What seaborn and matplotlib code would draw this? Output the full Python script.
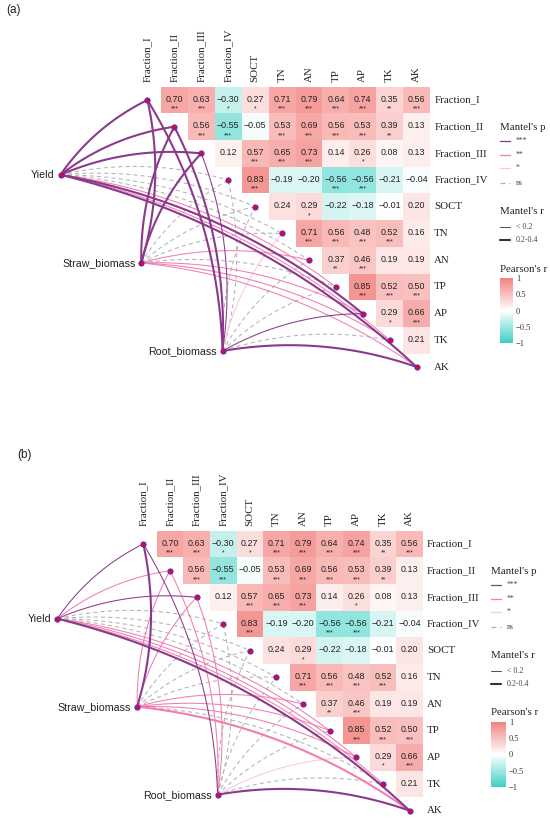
import numpy as np
import pandas as pd
import matplotlib
matplotlib.use("Agg")
import matplotlib.pyplot as plt
from matplotlib.colors import LinearSegmentedColormap
import seaborn as sns

# variables of the correlation triangle
variables = ["Fraction_I", "Fraction_II", "Fraction_III", "Fraction_IV", "SOCT",
             "TN", "AN", "TP", "AP", "TK", "AK"]
env_names = ["Yield", "Straw_biomass", "Root_biomass"]

# Pearson's r, upper triangle row by row (diagonal left out)
r_rows = [
    [0.70, 0.63, -0.30, 0.27, 0.71, 0.79, 0.64, 0.74, 0.35, 0.56],
    [0.56, -0.55, -0.05, 0.53, 0.69, 0.56, 0.53, 0.39, 0.13],
    [0.12, 0.57, 0.65, 0.73, 0.14, 0.26, 0.08, 0.13],
    [0.83, -0.19, -0.20, -0.56, -0.56, -0.21, -0.04],
    [0.24, 0.29, -0.22, -0.18, -0.01, 0.20],
    [0.71, 0.56, 0.48, 0.52, 0.16],
    [0.37, 0.46, 0.19, 0.19],
    [0.85, 0.52, 0.50],
    [0.29, 0.66],
    [0.21],
]
sig_rows = [
    ["***", "***", "*", "*", "***", "***", "***", "***", "**", "***"],
    ["***", "***", "", "***", "***", "***", "***", "**", ""],
    ["", "***", "***", "***", "", "*", "", ""],
    ["***", "", "", "***", "***", "", ""],
    ["", "*", "", "", "", ""],
    ["***", "***", "***", "***", ""],
    ["**", "***", "", ""],
    ["***", "***", "***"],
    ["*", "***"],
    [""],
]

# Mantel tests, panel (a): rows = Yield, Straw_biomass, Root_biomass
mantel_p_a = [
    ["***", "***", "***", "ns", "ns", "ns", "ns", "**", "***", "**", "***"],
    ["***", "***", "***", "ns", "ns", "ns", "**", "ns", "**", "**", "**"],
    ["***", "***", "***", "ns", "ns", "*", "ns", "ns", "***", "ns", "***"],
]
mantel_r_a = [
    ["0.2-0.4", "0.2-0.4", "0.2-0.4", "<0.2", "<0.2", "<0.2", "<0.2", "<0.2", "0.2-0.4", "<0.2", "0.2-0.4"],
    ["0.2-0.4", "0.2-0.4", "0.2-0.4", "<0.2", "<0.2", "<0.2", "<0.2", "<0.2", "<0.2", "<0.2", "<0.2"],
    ["0.2-0.4", "0.2-0.4", "<0.2", "<0.2", "<0.2", "<0.2", "<0.2", "<0.2", "<0.2", "<0.2", "0.2-0.4"],
]
# Mantel tests, panel (b)
mantel_p_b = [
    ["***", "**", "***", "ns", "ns", "ns", "ns", "**", "**", "**", "***"],
    ["***", "**", "**", "ns", "ns", "ns", "**", "**", "**", "ns", "**"],
    ["***", "**", "**", "ns", "ns", "ns", "ns", "ns", "*", "ns", "***"],
]
mantel_r_b = [
    ["<0.2", "<0.2", "<0.2", "<0.2", "<0.2", "<0.2", "<0.2", "<0.2", "<0.2", "<0.2", "0.2-0.4"],
    ["0.2-0.4", "<0.2", "<0.2", "<0.2", "<0.2", "<0.2", "<0.2", "<0.2", "<0.2", "<0.2", "0.2-0.4"],
    ["<0.2", "<0.2", "<0.2", "<0.2", "<0.2", "<0.2", "<0.2", "<0.2", "<0.2", "<0.2", "0.2-0.4"],
]

cbar_ticks = [1, 0.5, 0, -0.5, -1]

# --- layout (pixels) ---
W, H = 550, 821
layouts = [
    dict(tag="(a)", tagx=6, tagy=10, x0=134.0, cw=26.92, y0=86.65, ch=26.7, legx=500, cbw=13,
         p=mantel_p_a, r=mantel_r_a),
    dict(tag="(b)", tagx=17, tagy=455, x0=130.0, cw=26.63, y0=530.65, ch=26.67, legx=491, cbw=15,
         p=mantel_p_b, r=mantel_r_b),
]
# env node positions in cell units (same frame as the heatmap)
env_xy = [(-2.73, 3.30), (0.27, 6.60), (3.29, 9.90)]

p_color = {"***": "#8B3A8B", "**": "#F27DB0", "*": "#F9C8DB", "ns": "#B3B3B3"}
p_style = {"***": "-", "**": "-", "*": "-", "ns": (0, (4, 3))}
r_width = {"<0.2": 0.75, "0.2-0.4": 1.5}
p_order = ["ns", "*", "**", "***"]

SERIF = ["Liberation Serif", "DejaVu Serif"]
sns.set_style("white")
plt.rcParams["font.family"] = ["Liberation Sans", "DejaVu Sans"]

cmap = LinearSegmentedColormap.from_list("pearson", ["#3DD0C4", "#FFFFFF", "#F2827F"])

n = len(variables)
corr = np.full((n, n), np.nan)
stars = [["" for _ in range(n)] for _ in range(n)]
for i, (vals, sg) in enumerate(zip(r_rows, sig_rows)):
    for k, (v, s) in enumerate(zip(vals, sg)):
        corr[i, i + 1 + k] = v
        stars[i][i + 1 + k] = s
corr_df = pd.DataFrame(corr, index=variables, columns=variables)
mask = np.tril(np.ones((n, n), dtype=bool))


def curve(p0, p1, rad, num=60):
    p0, p1 = np.asarray(p0, float), np.asarray(p1, float)
    d = p1 - p0
    ctrl = (p0 + p1) / 2 + rad * np.array([d[1], -d[0]])
    t = np.linspace(0, 1, num)[:, None]
    return (1 - t) ** 2 * p0 + 2 * (1 - t) * t * ctrl + t ** 2 * p1


fig = plt.figure(figsize=(W / 100, H / 100), dpi=100)
lg = fig.add_axes([0, 0, 1, 1], zorder=10)
lg.set_xlim(0, W)
lg.set_ylim(H, 0)
lg.axis("off")

for lay in layouts:
    xmin = -4.9
    left = lay["x0"] + xmin * lay["cw"]
    ax = fig.add_axes([left / W, 1 - (lay["y0"] + n * lay["ch"]) / H,
                       (n - xmin) * lay["cw"] / W, n * lay["ch"] / H])
    row0 = lay["y0"] + lay["ch"] / 2
    lx = lay["legx"]
    cax = fig.add_axes([lx / W, 1 - (row0 + 243) / H, lay["cbw"] / W, 65 / H])

    sns.heatmap(corr_df, mask=mask, cmap=cmap, vmin=-1, vmax=1, ax=ax, cbar_ax=cax,
                cbar_kws={"ticks": cbar_ticks}, linewidths=0)
    ax.set_xlim(xmin, n)
    ax.set_ylim(n, 0)
    ax.set_xticks([])
    ax.set_yticks([])
    ax.set_xlabel("")
    ax.set_ylabel("")

    # cell labels
    for i in range(n):
        for j in range(n):
            if np.isnan(corr[i, j]):
                continue
            txt = f"{corr[i, j]:.2f}".replace("-", "\u2212")
            ax.text(j + 0.5, i + 0.47, txt, ha="center", va="center", fontsize=6.4, color="#222222")
            if stars[i][j]:
                ax.text(j + 0.5, i + 0.83, stars[i][j], ha="center", va="center",
                        fontsize=4.8, color="#222222")

    # axis labels
    for j, name in enumerate(variables):
        ax.text(j + 0.5, -0.17, name, rotation=90, ha="center", va="bottom",
                fontsize=7.8, family=SERIF, color="#222222", clip_on=False)
        ax.text(n + 0.15, j + 0.5, name, ha="left", va="center",
                fontsize=7.8, family=SERIF, color="#222222", clip_on=False)

    # Mantel links
    for level in p_order:
        for e, (ex, ey) in enumerate(env_xy):
            for j in range(n):
                if lay["p"][e][j] != level:
                    continue
                vx, vy = j + 0.5, j + 0.5
                rad = 0.13 if vx > ex + 0.5 else -0.13
                pts = curve((ex, ey), (vx, vy), rad)
                ax.plot(pts[:, 0], pts[:, 1], color=p_color[level], ls=p_style[level],
                        lw=r_width[lay["r"][e][j]], solid_capstyle="round", zorder=3, clip_on=False)

    # nodes
    diag = np.arange(n) + 0.5
    ax.scatter(diag, diag, s=14, c="red", edgecolors="#3333FF", linewidths=0.7, zorder=6, clip_on=False)
    ax.scatter([p[0] for p in env_xy], [p[1] for p in env_xy], s=14, c="red",
               edgecolors="#3333FF", linewidths=0.7, zorder=6, clip_on=False)
    for name, (ex, ey) in zip(env_names, env_xy):
        ax.text(ex - 0.22, ey, name, ha="right", va="center", fontsize=7.7, color="#222222")

    # colorbar
    cb = ax.collections[0].colorbar
    cb.outline.set_visible(False)
    cax.tick_params(length=0, pad=2, labelsize=6, colors="#333333")
    cax.set_yticklabels(["1", "0.5", "0", "\u22120.5", "\u22121"])
    for t in cax.get_yticklabels():
        t.set_family(SERIF)

    # legend
    lg.text(lay["tagx"], lay["tagy"], lay["tag"], ha="left", va="center", fontsize=8.5, color="#222222")
    lg.text(lx, row0 + 28, "Mantel's p", ha="left", va="center", fontsize=7.8, family=SERIF, color="#222222")
    for yy, level in zip([41, 55, 68, 83], ["***", "**", "*", "ns"]):
        lg.plot([lx, lx + 10], [row0 + yy, row0 + yy], color=p_color[level], ls=p_style[level], lw=0.9)
        lg.text(lx + 16, row0 + yy, level, ha="left", va="center", fontsize=5.6, family=SERIF, color="#444444")
    lg.text(lx, row0 + 112, "Mantel's r", ha="left", va="center", fontsize=7.8, family=SERIF, color="#222222")
    for yy, lab in zip([127, 140], ["<0.2", "0.2-0.4"]):
        lg.plot([lx, lx + 10], [row0 + yy, row0 + yy], color="#555555" if lab == "<0.2" else "#333333",
                lw=r_width[lab])
        lg.text(lx + 16, row0 + yy, lab.replace("<", "< "), ha="left", va="center", fontsize=5.8,
                family=SERIF, color="#444444")
    lg.text(lx, row0 + 169, "Pearson's r", ha="left", va="center", fontsize=7.8, family=SERIF, color="#222222")

fig.savefig("out.png", dpi=100)
